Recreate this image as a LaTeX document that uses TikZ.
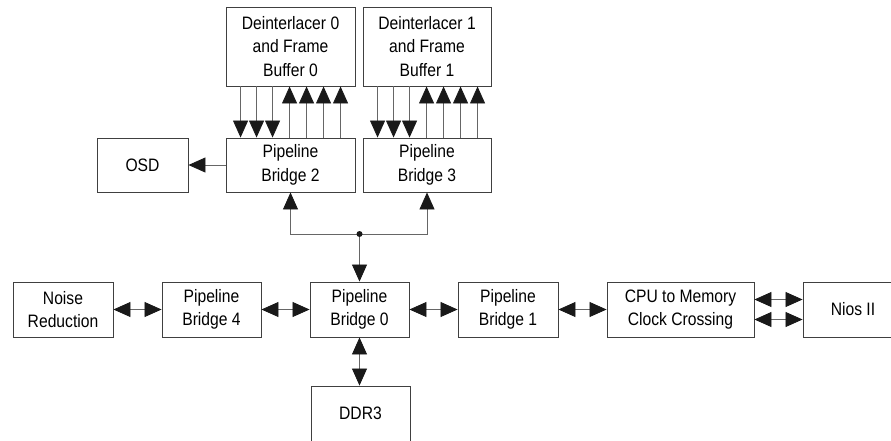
\documentclass[tikz,border=0pt]{standalone}
\usepackage{fontspec}
\setmainfont{Liberation Sans}[FakeStretch=0.87]
\usetikzlibrary{arrows.meta}
\begin{document}
\begin{tikzpicture}[x=1pt,y=-1pt,
  box/.style={draw=black!75, line width=0.9pt, inner sep=0pt, align=center,
              font=\fontsize{18}{23.5}\selectfont},
  link/.style={draw=black!60, line width=0.8pt},
  >={Triangle[length=17pt,width=15pt,color=black!90]}]
\useasboundingbox (0,0) rectangle (891,440);
\clip (0,0) rectangle (891,440);

% frame buffers and their bridges
\node[box, minimum width=129pt, minimum height=79pt] (d0) at (290.5,46.5) {Deinterlacer 0\\and Frame\\Buffer 0};
\node[box, minimum width=128pt, minimum height=79pt] (d1) at (427,46.5) {Deinterlacer 1\\and Frame\\Buffer 1};
\node[box, minimum width=129pt, minimum height=54pt] (pb2) at (290.5,165) {Pipeline\\Bridge 2};
\node[box, minimum width=128pt, minimum height=54pt] (pb3) at (427,165) {Pipeline\\Bridge 3};
\node[box, minimum width=91pt, minimum height=54pt] (osd) at (142.5,165) {OSD};

% main row
\node[box, minimum width=100pt, minimum height=55pt] (nr) at (63,309.5) {Noise\\Reduction};
\node[box, minimum width=99pt, minimum height=55pt] (pb4) at (211.5,309.5) {Pipeline\\Bridge 4};
\node[box, minimum width=99pt, minimum height=55pt] (pb0) at (359.5,309.5) {Pipeline\\Bridge 0};
\node[box, minimum width=100pt, minimum height=55pt] (pb1) at (508,309.5) {Pipeline\\Bridge 1};
\node[box, minimum width=147pt, minimum height=55pt] (cpu) at (680.5,309.5) {CPU to Memory\\Clock Crossing};
\node[box, minimum width=100pt, minimum height=55pt] (nios) at (853,309.5) {Nios II};
\node[box, minimum width=99pt, minimum height=55pt] (ddr) at (360.5,413.5) {DDR3};

% read / write ports between frame buffers and bridges
\foreach \o in {15,31,47} {
  \draw[link,->] ([xshift=\o pt]d0.south west) -- ([xshift=\o pt]pb2.north west);
  \draw[link,->] ([xshift=\o pt]d1.south west) -- ([xshift=\o pt]pb3.north west);
}
\foreach \o in {64,81,98,115} {
  \draw[link,<-] ([xshift=\o pt]d0.south west) -- ([xshift=\o pt]pb2.north west);
  \draw[link,<-] ([xshift=\o pt]d1.south west) -- ([xshift=\o pt]pb3.north west);
}

\draw[link,->] (pb2.west) -- (osd.east);

% split from bridge 0 to bridges 2 and 3
\coordinate (j) at (359.5,234);
\draw[link,->] (j) -| (pb2.south);
\draw[link,->] (j) -| (pb3.south);
\draw[link,->] (j) -- (pb0.north);
\fill[black!90] (j) circle (3pt);

% main row links
\draw[link,<->] (nr.east) -- (pb4.west);
\draw[link,<->] (pb4.east) -- (pb0.west);
\draw[link,<->] (pb0.east) -- (pb1.west);
\draw[link,<->] (pb1.east) -- (cpu.west);
\draw[link,<->] ([yshift=10pt]cpu.east) -- ([yshift=10pt]nios.west);
\draw[link,<->] ([yshift=-10pt]cpu.east) -- ([yshift=-10pt]nios.west);
\draw[link,<->] (pb0.south) -- (pb0.south |- ddr.north);
\end{tikzpicture}
\end{document}
